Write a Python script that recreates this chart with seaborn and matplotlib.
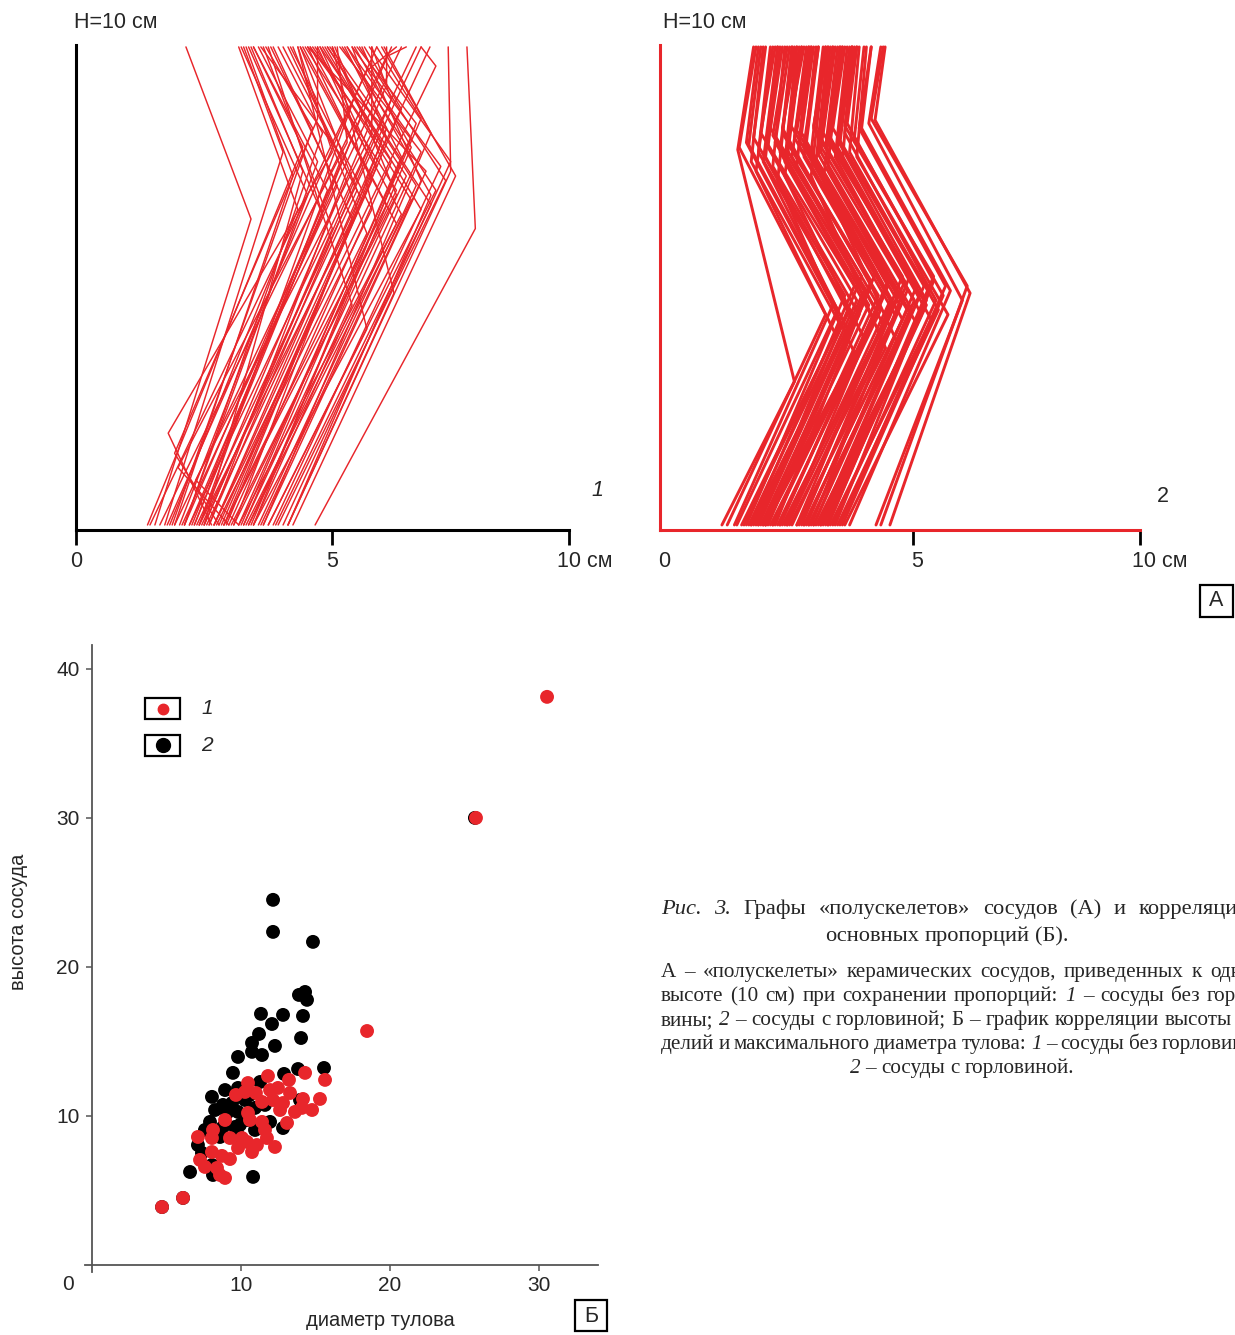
import numpy as np
import pandas as pd
import matplotlib
matplotlib.use("Agg")
import matplotlib.pyplot as plt
import seaborn as sns
from matplotlib.patches import Rectangle
from matplotlib.lines import Line2D
from matplotlib.legend_handler import HandlerBase
import matplotlib.transforms as mtrans

# ---------------- data ----------------
NaN = np.nan
# Panel A1: vessels without neck (bottom -> [foot] -> belly -> top), heights normalised to 10 cm
p1_bottom = [1.90, 2.10, 2.00, 2.30, 2.40, 2.20, 2.60, 1.80, 1.60,
             2.50, 2.80, 2.70, 3.00, 2.20,
             3.00, 3.20, 2.90, 3.30, 3.10, 3.50, 2.60, 3.40, 3.60, 2.80, 3.70, 3.20, 2.40, 3.80,
             3.50, 3.90, 3.30, 4.00, 3.60, 4.10, 3.00, 4.20, 2.70, 3.40, 4.40, 3.80, 2.50, 4.30,
             1.45, 2.15, 2.55, 2.95, 3.15, 3.35, 2.85, 3.55, 3.75, 2.35, 3.05, 3.45, 1.95, 2.50, 4.05,
             2.65, 2.30, 2.00, 1.50, 2.80, 1.70, 2.45, 2.20, 1.85,
             4.85, 4.30,
             3.90, 4.30, 3.60,
             2.60, 2.75, 2.90, 3.10, 3.30]
p1_foot_x = [NaN] * 72 + [1.87, 2.00, 2.07, 2.43, 2.74]
p1_foot_y = [NaN] * 72 + [1.92, 1.50, 1.20, 0.94, 1.50]
p1_belly_x = [4.50, 4.70, 4.40, 5.00, 5.10, 4.90, 5.20, 4.20, 3.55,
              5.60, 5.80, 5.50, 5.90, 5.00,
              6.30, 6.50, 6.00, 6.60, 6.40, 6.80, 5.90, 6.70, 7.00, 6.20, 6.90, 6.30, 5.80, 7.10,
              7.00, 7.30, 6.80, 7.40, 6.90, 7.50, 6.60, 7.60, 6.40, 7.00, 7.70, 7.20, 6.30, 7.20,
              4.60, 5.30, 5.70, 6.10, 6.50, 6.60, 6.00, 6.80, 7.00, 5.40, 6.30, 6.50, 4.80, 5.60, 7.20,
              NaN, NaN, NaN, 5.90, 7.30, 6.30, NaN, NaN, NaN,
              8.10, 7.60,
              5.90, 6.45, 5.60,
              4.60, 5.20, 4.90, 5.50, 6.00]
p1_belly_y = [6.6, 6.9, 7.3, 6.5, 7.0, 7.6, 6.2, 7.8, 6.4,
              6.4, 6.8, 7.4, 6.1, 8.2,
              6.7, 7.0, 7.2, 6.5, 7.6, 6.8, 7.8, 7.3, 6.6, 8.0, 7.1, 8.3, 8.6, 7.4,
              7.8, 7.0, 8.1, 7.5, 8.4, 7.2, 8.7, 7.6, 8.9, 8.5, 7.3, 8.2, 9.2, 6.9,
              7.9, 7.1, 7.0, 7.5, 6.9, 7.7, 6.6, 7.9, 7.2, 7.7, 8.1, 6.3, 8.3, 8.8, 6.7,
              NaN, NaN, NaN, 9.5, 9.6, 9.8, NaN, NaN, NaN,
              6.2, 7.4,
              4.1, 4.85, 4.6,
              7.4, 7.8, 8.5, 8.0, 8.2]
p1_top = [3.30, 3.35, 3.45, 3.50, 3.60, 3.70, 3.80, 3.40, 2.23,
          4.00, 4.20, 4.30, 4.40, 4.10,
          4.60, 4.65, 4.70, 4.75, 4.80, 4.85, 4.90, 4.95, 5.00, 5.05, 5.10, 5.15, 5.20, 4.70,
          5.35, 5.40, 5.50, 5.60, 5.70, 5.75, 5.85, 5.95, 6.00, 6.10, 6.20, 6.25, 6.30, 5.50,
          3.60, 3.95, 4.55, 4.95, 5.25, 5.45, 4.35, 5.65, 5.80, 3.75, 5.60, 4.55, 3.85, 4.75, 5.10,
          7.18, 6.90, 6.60, 6.50, 7.00, 6.70, 7.00, 6.40, 6.10,
          7.93, 7.55,
          4.50, 5.20, 3.90,
          3.55, 4.50, 4.90, 5.30, 6.00]

# Panel A2: vessels with neck (bottom -> belly -> neck -> top)
p2_bottom = [1.29, 1.40, 1.55, 1.70, 1.80, 1.85, 1.90, 1.95, 2.00, 2.05, 2.10, 2.15, 2.20, 2.25,
             2.30, 2.35, 2.40, 2.45, 2.50, 2.55, 2.60, 2.65, 2.70, 2.75, 2.90, 2.95, 3.00, 3.05,
             3.10, 3.15, 3.20, 3.25, 3.30, 3.35, 3.40, 3.45, 3.50, 3.55, 3.60, 3.65, 3.70, 3.80,
             3.85, 3.95, 4.50, 4.60, 4.79, 1.75, 2.20, 3.10,
             1.60, 1.90, 2.05, 2.20, 2.35, 2.50, 2.65, 2.85, 3.00, 3.20, 3.35, 3.50, 3.75, 2.15, 2.85]
p2_belly_x = [2.80, 3.45, 3.60, 3.75, 3.85, 3.95, 4.05, 4.00, 4.10, 4.20, 4.15, 4.30, 4.35, 4.40,
              4.45, 4.55, 4.50, 4.60, 4.70, 4.65, 4.80, 4.75, 4.90, 4.95, 5.00, 5.10, 5.05, 5.15,
              5.25, 5.20, 5.30, 5.35, 5.40, 5.50, 5.45, 5.55, 5.60, 5.65, 5.75, 5.70, 5.80, 5.90,
              6.00, 6.05, 6.30, 6.40, 6.46, 3.65, 4.25, 4.95,
              3.70, 3.90, 4.25, 4.40, 4.50, 4.75, 4.85, 5.05, 5.15, 5.35, 5.55, 5.70, 5.95, 4.05, 4.70]
p2_belly_y = [3.0, 4.4, 4.6, 4.2, 4.8, 4.5, 5.0, 4.3, 4.7, 5.2, 4.4, 4.9, 4.6, 5.1,
              4.3, 4.8, 5.3, 4.5, 4.9, 4.2, 4.7, 5.0, 4.4, 4.8, 4.6, 5.1, 4.3, 4.9,
              4.5, 5.2, 4.7, 4.2, 4.8, 5.0, 4.4, 4.6, 4.9, 4.3, 4.7, 5.1, 4.5, 4.8,
              4.4, 4.9, 4.7, 5.0, 4.85, 4.0, 3.9, 3.8,
              4.5, 4.1, 4.9, 5.0, 4.5, 5.1, 4.6, 5.2, 4.5, 5.0, 4.7, 5.2, 5.0, 3.6, 3.7]
p2_neck_x = [1.62, 1.65, 1.80, 1.90, 1.95, 2.05, 2.10, 2.20, 2.25, 2.30, 2.35, 2.40, 2.50, 2.55,
             2.60, 2.65, 2.70, 2.75, 2.80, 2.85, 2.90, 2.95, 3.00, 3.05, 3.15, 3.20, 3.25, 3.30,
             3.35, 3.40, 3.45, 3.50, 3.55, 3.60, 3.65, 3.70, 3.75, 3.80, 3.85, 3.90, 3.95, 4.05,
             4.10, 4.20, 4.35, 4.40, 4.48, 2.00, 2.60, 3.40,
             1.85, 2.15, 2.35, 2.55, 2.65, 2.85, 3.00, 3.20, 3.30, 3.50, 3.70, 3.85, 4.15, 2.45, 3.15]
p2_neck_y = [7.85, 7.9, 8.0, 7.6, 8.1, 7.8, 8.2, 7.7, 7.9, 8.3, 7.5, 8.0, 7.8, 8.2,
             7.6, 8.0, 8.4, 7.7, 8.1, 7.5, 7.9, 8.2, 7.7, 8.0, 7.8, 8.3, 7.6, 8.0,
             7.8, 8.2, 7.9, 7.5, 8.1, 8.3, 7.7, 7.9, 8.0, 7.6, 8.2, 8.4, 7.8, 8.1,
             7.7, 8.3, 8.4, 8.5, 8.47, 7.4, 7.3, 7.2,
             7.95, 7.6, 8.15, 8.3, 7.85, 8.25, 7.95, 8.35, 7.75, 8.1, 8.05, 8.35, 8.3, 7.2, 7.3]
p2_top = [1.95, 2.00, 2.05, 2.15, 2.20, 2.30, 2.40, 2.45, 2.50, 2.55, 2.60, 2.70, 2.75, 2.80,
          2.85, 2.90, 3.00, 3.05, 3.10, 3.10, 3.15, 3.20, 3.25, 3.30, 3.40, 3.45, 3.50, 3.55,
          3.60, 3.65, 3.70, 3.75, 3.80, 3.85, 3.90, 3.95, 4.00, 4.00, 4.05, 4.10, 4.15, 4.25,
          4.30, 4.40, 4.60, 4.65, 4.69, 2.35, 2.95, 3.75,
          2.10, 2.45, 2.65, 2.85, 2.95, 3.15, 3.30, 3.50, 3.60, 3.80, 4.00, 4.10, 4.40, 2.75, 3.45]

# Panel B: height vs max body diameter (cm)
g1_diam = [30.54, 25.77, 18.46, 4.70, 6.11, 11.81, 14.30, 15.64, 13.22, 10.47, 14.16, 15.30,
           10.27, 11.95, 13.29, 11.41, 12.15, 12.82, 12.62, 14.09, 10.47, 10.60, 11.41, 13.09,
           8.12, 8.05, 7.11, 9.26, 10.07, 10.40, 11.07, 11.74, 12.28, 10.74, 8.05, 8.72, 9.26,
           7.58, 8.39, 8.59, 8.93,
           9.66, 11.00, 12.48, 13.62, 11.61, 9.80, 7.25, 14.77, 8.93]
g1_height = [38.12, 30.00, 15.70, 3.89, 4.50, 12.68, 12.89, 12.42, 12.42, 12.21, 11.14, 11.14,
             11.61, 11.74, 11.54, 10.94, 11.07, 10.87, 10.40, 10.54, 10.20, 9.73, 9.60, 9.53,
             9.06, 8.52, 8.59, 8.52, 8.52, 8.26, 8.05, 8.52, 7.92, 7.58, 7.58, 7.32, 7.11,
             6.58, 6.51, 6.04, 5.84,
             11.41, 11.54, 11.88, 10.27, 9.06, 7.85, 7.05, 10.40, 9.73]
g2_diam = [12.15, 12.15, 14.83, 13.89, 14.30, 14.43, 11.34, 12.82, 14.16, 12.08, 11.21, 14.03,
           12.28, 10.74, 11.41, 9.80, 10.74, 9.46, 15.57, 13.83, 12.89, 11.28, 9.80, 8.05,
           13.96, 8.79, 9.40, 9.06, 9.80, 10.40, 9.60, 8.79, 7.92, 11.95, 7.58, 8.59, 9.80,
           7.38, 8.12, 6.58, 10.81, 10.27, 10.94, 4.70, 6.11, 25.70,
           8.93, 10.60, 11.61, 8.26, 9.93, 7.11, 8.05, 10.94, 12.82]
g2_height = [24.50, 22.35, 21.68, 18.12, 18.32, 17.79, 16.85, 16.78, 16.71, 16.17, 15.50, 15.23,
             14.70, 14.90, 14.09, 13.96, 14.30, 12.89, 13.22, 13.15, 12.82, 12.28, 11.88, 11.28,
             11.07, 10.74, 10.87, 10.20, 10.27, 9.73, 9.26, 9.26, 9.60, 9.60, 9.06, 8.59, 8.72,
             7.52, 6.04, 6.24, 5.91, 11.07, 10.54, 3.89, 4.50, 30.00,
             11.74, 11.41, 10.74, 10.40, 9.40, 8.05, 6.71, 9.06, 9.19]

legend_labels = ["1", "2"]
axis_ticks_A = ["0", "5", "10 см"]

# ---------------- styling ----------------
sns.set_theme(style="white")
plt.rcParams["font.family"] = ["Liberation Sans", "DejaVu Sans"]
RED = "#e8262b"
W, H = 1235, 1335
fig = plt.figure(figsize=(W / 100, H / 100), dpi=100)


def fbox(l, t, r, b):
    return [l / W, 1 - b / H, (r - l) / W, (b - t) / H]


def skeleton_frame(*cols):
    rows = []
    n = len(cols[0])
    for i in range(n):
        pts = [(cols[0][i], 0.0)]
        k = 1
        while k < len(cols) - 1:
            x, y = cols[k][i], cols[k + 1][i]
            if not (np.isnan(x) or np.isnan(y)):
                pts.append((x, y))
            k += 2
        pts.append((cols[-1][i], 10.0))
        for j, (x, y) in enumerate(pts):
            rows.append({"vessel": i, "order": j, "x": x, "y": y})
    return pd.DataFrame(rows)


df1 = skeleton_frame(p1_bottom, p1_foot_x, p1_foot_y, p1_belly_x, p1_belly_y, p1_top)
df2 = skeleton_frame(p2_bottom, p2_belly_x, p2_belly_y, p2_neck_x, p2_neck_y, p2_top)

FS = 15.5
# ---- Panel A1 ----
ax1 = fig.add_axes(fbox(76, 45, 569, 530))
sns.lineplot(data=df1, x="x", y="y", units="vessel", estimator=None, sort=False,
             color=RED, lw=1.05, ax=ax1, legend=False)
# ---- Panel A2 ----
ax2 = fig.add_axes(fbox(660, 45, 1140, 530))
sns.lineplot(data=df2, x="x", y="y", units="vessel", estimator=None, sort=False,
             color=RED, lw=2.1, ax=ax2, legend=False)

for ax, spc, ticks in [(ax1, "black", [0, 5.2, 10]), (ax2, RED, [0, 5.27, 10])]:
    ax.set_xlim(0, 10)
    ax.set_ylim(-0.105, 10.04)
    ax.set_xlabel("")
    ax.set_ylabel("")
    ax.set_yticks([])
    for s in ["top", "right"]:
        ax.spines[s].set_visible(False)
    for s in ["left", "bottom"]:
        ax.spines[s].set_color(spc)
        ax.spines[s].set_linewidth(2.2)
    ax.set_xticks(ticks)
    ax.set_xticklabels(axis_ticks_A)
    ax.tick_params(axis="x", direction="out", length=11, width=2.0, color="black",
                   labelsize=FS, pad=4, bottom=True)
    labs = ax.get_xticklabels()
    labs[-1].set_horizontalalignment("left")
    labs[-1].set_transform(labs[-1].get_transform() +
                           mtrans.ScaledTranslation(-12 / 100, 0, fig.dpi_scale_trans))
    ax.patch.set_alpha(0)

for lab in ax2.get_xticklabels():
    lab.set_transform(lab.get_transform() + mtrans.ScaledTranslation(4 / 100, 0, fig.dpi_scale_trans))
ax2.xaxis.get_major_ticks()[0].tick1line.set_visible(False)

fig.text(74 / W, 1 - 22 / H, "H=10 см", ha="left", va="center", fontsize=FS)
fig.text(663 / W, 1 - 22 / H, "H=10 см", ha="left", va="center", fontsize=FS)
fig.text(597 / W, 1 - 491 / H, "1", ha="center", va="center", fontsize=FS, style="italic")
fig.text(1163 / W, 1 - 496 / H, "2", ha="center", va="center", fontsize=FS)

fig.add_artist(Rectangle((1200 / W, 1 - 617 / H), 33 / W, 32 / H, transform=fig.transFigure,
                         fill=False, ec="black", lw=1.6))
fig.text(1216.5 / W, 1 - 601 / H, "А", ha="center", va="center", fontsize=FS)

# ---- Panel B ----
ax3 = fig.add_axes(fbox(85, 645, 598, 1272))
dfB = pd.DataFrame({
    "diam": g2_diam + g1_diam,
    "height": g2_height + g1_height,
    "group": ["2"] * len(g2_diam) + ["1"] * len(g1_diam),
})
sns.scatterplot(data=dfB, x="diam", y="height", hue="group",
                palette={"1": RED, "2": "black"}, s=100, linewidth=0, ax=ax3, legend=False)
ax3.set_xlim(-0.47, 33.96)
ax3.set_ylim(-0.47, 41.6)
for s in ["top", "right"]:
    ax3.spines[s].set_visible(False)
GR = "#555555"
for s in ["left", "bottom"]:
    ax3.spines[s].set_color(GR)
    ax3.spines[s].set_linewidth(1.3)
    ax3.spines[s].set_position(("data", 0))
ax3.set_xticks([10, 20, 30])
ax3.set_yticks([10, 20, 30, 40])
ax3.tick_params(axis="both", direction="out", length=4, width=1.1, color=GR,
                labelsize=15, left=True, bottom=True)
ax3.tick_params(axis="x", pad=4)
ax3.tick_params(axis="y", pad=5)
ax3.patch.set_alpha(0)
fig.text(68 / W, 1 - 1285 / H, "0", ha="center", va="center", fontsize=15)
ax3.set_xlabel("диаметр тулова", fontsize=14.5)
ax3.set_ylabel("высота сосуда", fontsize=14.5)
ax3.xaxis.label.set_va("center")
ax3.yaxis.label.set_va("center")
ax3.xaxis.set_label_coords((380 - 85) / 513, (1272 - 1320) / 627)
ax3.yaxis.set_label_coords((19 - 85) / 513, (1272 - 922) / 627)


class BoxedDot(HandlerBase):
    def create_artists(self, legend, orig_handle, xdescent, ydescent, width, height, fontsize, trans):
        r = Rectangle((-xdescent, -ydescent - 2), width, height + 2, fc="white", ec="black",
                      lw=1.6, transform=trans)
        d = Line2D([-xdescent + width / 2], [-ydescent + height / 2 - 1], marker="o",
                   ms=orig_handle.get_markersize(), mfc=orig_handle.get_markerfacecolor(),
                   mec=orig_handle.get_markerfacecolor(), ls="none", transform=trans)
        return [r, d]


h1 = Line2D([], [], marker="o", ms=7.5, color=RED, ls="none")
h2 = Line2D([], [], marker="o", ms=10, color="black", ls="none")
ax3.legend([h1, h2], legend_labels, handler_map={Line2D: BoxedDot()},
           loc="upper left", bbox_to_anchor=(145 / W, 1 - 698 / H), bbox_transform=fig.transFigure,
           frameon=False, borderpad=0, borderaxespad=0, handlelength=1.7, handleheight=1.0,
           labelspacing=0.78, handletextpad=1.0, prop={"style": "italic", "size": 15})

fig.add_artist(Rectangle((575 / W, 1 - 1331 / H), 32 / W, 31 / H, transform=fig.transFigure,
                         fill=False, ec="black", lw=1.6))
fig.text(591 / W, 1 - 1317 / H, "Б", ha="center", va="center", fontsize=FS)

# ---- caption (rich text runs, justified like the printed page) ----
fig.canvas.draw()
renderer = fig.canvas.get_renderer()
SERIF = ["Liberation Serif", "DejaVu Serif"]


def run_width(s, size, style):
    t1 = fig.text(0, 0, "|" + s + "|", family=SERIF, size=size, style=style)
    t2 = fig.text(0, 0, "||", family=SERIF, size=size, style=style)
    w = t1.get_window_extent(renderer).width - t2.get_window_extent(renderer).width
    t1.remove()
    t2.remove()
    return w


def rich_line(x_px, y_px, parts, size, align="left", right_px=None):
    tokens = []  # (word, style) or None for a space
    for s, st in parts:
        pieces = s.split(" ")
        for k, p in enumerate(pieces):
            if k > 0:
                tokens.append(None)
            if p:
                tokens.append((p, st))
    space_w = run_width(" ", size, "normal")
    widths = [space_w if t is None else run_width(t[0], size, t[1]) for t in tokens]
    total = sum(widths)
    n_sp = sum(1 for t in tokens if t is None)
    extra = 0.0
    if align == "justify" and right_px is not None and n_sp:
        extra = (right_px - x_px - total) / n_sp
    x = x_px - total / 2 if align == "center" else x_px
    for t, w in zip(tokens, widths):
        if t is None:
            x += w + extra
            continue
        fig.text(x / W, 1 - y_px / H, t[0], family=SERIF, size=size, style=t[1],
                 ha="left", va="baseline")
        x += w


TS, BS = 16.2, 15.2
rich_line(661, 914, [("Рис. 3.", "italic"), (" Графы «полускелетов» сосудов (А) и корреляции", "normal")],
          TS, align="justify", right_px=1250)
rich_line(947, 941, [("основных пропорций (Б).", "normal")], TS, align="center")
rich_line(661, 977, [("А – «полускелеты» керамических сосудов, приведенных к одной", "normal")],
          BS, align="justify", right_px=1264)
rich_line(661, 1001, [("высоте (10 см) при сохранении пропорций: ", "normal"), ("1", "italic"),
                      (" – сосуды без горло-", "normal")], BS, align="justify", right_px=1264)
rich_line(661, 1025, [("вины; ", "normal"), ("2", "italic"),
                      (" – сосуды с горловиной; Б – график корреляции высоты из-", "normal")],
          BS, align="justify", right_px=1264)
rich_line(661, 1049, [("делий и максимального диаметра тулова: ", "normal"), ("1", "italic"),
                      (" – сосуды без горловины;", "normal")], BS, align="justify", right_px=1264)
rich_line(962, 1073, [("2", "italic"), (" – сосуды с горловиной.", "normal")], BS, align="center")

fig.savefig("out.png", dpi=100)
